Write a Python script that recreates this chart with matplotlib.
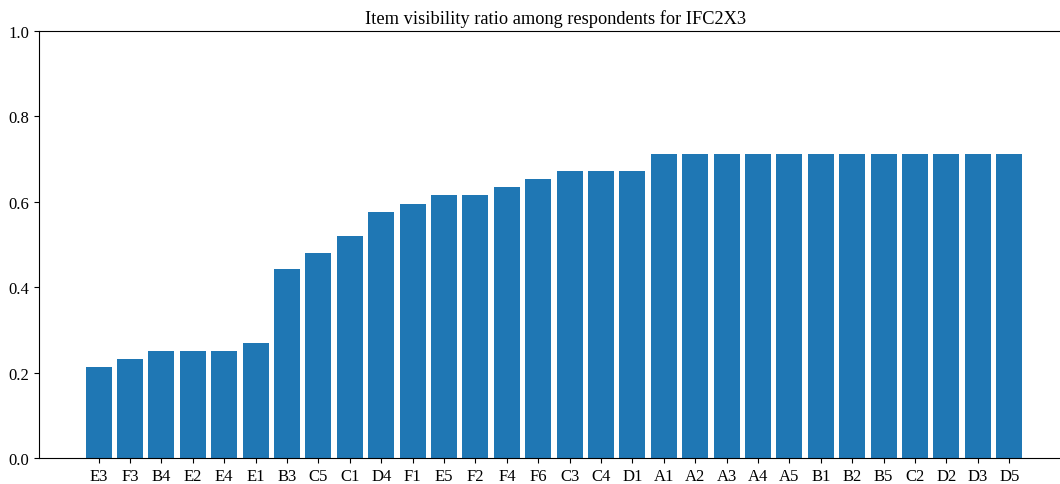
import numpy as np
import matplotlib
matplotlib.use("Agg")
import matplotlib.pyplot as plt

plt.rcParams['font.family'] = ['Liberation Serif', 'DejaVu Serif']
plt.rcParams['font.size'] = 11

items = ['E3', 'F3', 'B4', 'E2', 'E4', 'E1', 'B3', 'C5', 'C1', 'D4', 'F1',
         'E5', 'F2', 'F4', 'F6', 'C3', 'C4', 'D1', 'A1', 'A2', 'A3', 'A4',
         'A5', 'B1', 'B2', 'B5', 'C2', 'D2', 'D3', 'D5']
ratios = [0.212, 0.231, 0.250, 0.250, 0.250, 0.269, 0.442, 0.481, 0.519, 0.577,
          0.596, 0.615, 0.615, 0.635, 0.654, 0.673, 0.673, 0.673, 0.712, 0.712,
          0.712, 0.712, 0.712, 0.712, 0.712, 0.712, 0.712, 0.712, 0.712, 0.712]

fig = plt.figure(figsize=(10.6, 4.85), dpi=100)
# axes run past the right edge, as in the cropped original
ax = fig.add_axes([39 / 1060, 26 / 485, 1033 / 1060, 427 / 485])

x = np.arange(len(items))
ax.bar(x, ratios, width=0.83, color='#1f77b4')
ax.set_xticks(x)
ax.set_xticklabels(items)
ax.set_xlim(-1.9, len(items) + 1)
ax.set_ylim(0, 1.0)
ax.set_yticks([0.0, 0.2, 0.4, 0.6, 0.8, 1.0])
ax.tick_params(labelsize=12)
ax.set_title('Item visibility ratio among respondents for IFC2X3', fontsize=13.2)

fig.savefig('out.png', dpi=100)
